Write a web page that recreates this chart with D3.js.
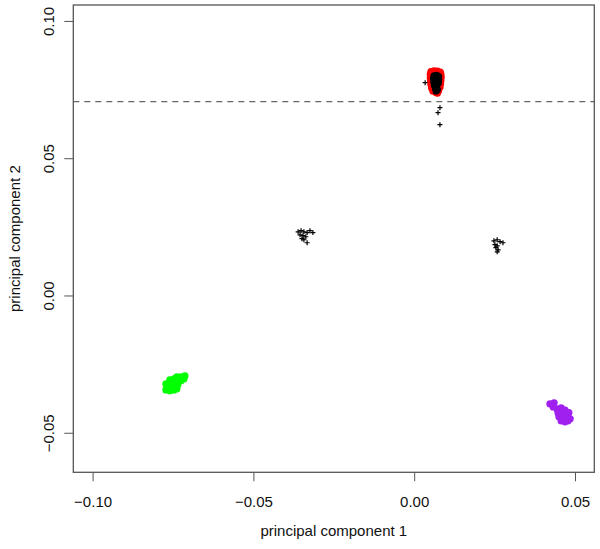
<!doctype html>
<html>
<head>
    <meta charset="utf-8">
    <style>
        body {
            margin: 0;
            background: #fff;
            font-family: "Liberation Sans", "Helvetica", "Arial", sans-serif;
        }
    </style>
    <script src="https://d3js.org/d3.v7.min.js"></script>
</head>
<body>
<div id="my_chart"></div>
<script>
    // cluster points [pc1, pc2]
    var redPoints = [
        [0.0052,0.0815],[0.0062,0.0818],[0.0072,0.0817],[0.0081,0.0814],[0.0050,0.0805],
        [0.0083,0.0806],[0.0050,0.0792],[0.0084,0.0795],[0.0051,0.0780],[0.0083,0.0782],
        [0.0052,0.0768],[0.0082,0.0770],[0.0054,0.0756],[0.0080,0.0758],[0.0058,0.0745],
        [0.0076,0.0746],[0.0066,0.0740],[0.0072,0.0737],[0.0060,0.0810],[0.0075,0.0808]
    ];
    var blackDots = [
        [0.0062,0.0800],[0.0070,0.0802],[0.0076,0.0797],[0.0060,0.0790],[0.0068,0.0790],
        [0.0076,0.0786],[0.0061,0.0778],[0.0069,0.0780],[0.0075,0.0774],[0.0063,0.0766],
        [0.0070,0.0768],[0.0066,0.0756],[0.0072,0.0750],[0.0068,0.0745]
    ];
    var blackCrosses = [
        [0.0034,0.0775],[0.0080,0.0684],[0.0074,0.0666],[0.0080,0.0622],
        [-0.0361,0.0232],[-0.0352,0.0236],[-0.0343,0.0232],[-0.0333,0.0229],[-0.0324,0.0236],
        [-0.0355,0.0221],[-0.0346,0.0218],[-0.0337,0.0214],[-0.0349,0.0207],[-0.0343,0.0203],
        [-0.0333,0.0192],[-0.0315,0.0229],
        [0.0248,0.0199],[0.0258,0.0203],[0.0267,0.0196],[0.0276,0.0192],[0.0251,0.0185],
        [0.0258,0.0181],[0.0254,0.0174],[0.0261,0.0166],[0.0258,0.0159]
    ];
    var greenPoints = [
        [-0.0772,-0.0322],[-0.0760,-0.0307],[-0.0747,-0.0304],[-0.0766,-0.0336],[-0.0753,-0.0329],
        [-0.0741,-0.0322],[-0.0760,-0.0347],[-0.0747,-0.0344],[-0.0735,-0.0325],[-0.0732,-0.0307],
        [-0.0772,-0.0344],[-0.0738,-0.0340],[-0.0738,-0.0296],[-0.0725,-0.0296],[-0.0713,-0.0293],
        [-0.0716,-0.0304],[-0.0725,-0.0311]
    ];
    var purplePoints = [
        [0.0422,-0.0395],[0.0435,-0.0391],[0.0432,-0.0406],[0.0444,-0.0413],[0.0457,-0.0409],
        [0.0469,-0.0417],[0.0447,-0.0427],[0.0460,-0.0427],[0.0472,-0.0431],[0.0481,-0.0427],
        [0.0450,-0.0442],[0.0463,-0.0446],[0.0475,-0.0446],[0.0485,-0.0449],[0.0457,-0.0457],
        [0.0469,-0.0460],[0.0478,-0.0457]
    ];
    var cutoff = 0.0706;
    var xTicks = [-0.10, -0.05, 0.00, 0.05];
    var yTicks = [-0.05, 0.00, 0.05, 0.10];

    var width = 600, height = 549;
    var box = {left: 73.3, right: 594.3, top: 5, bottom: 472.3};

    var svg = d3.select("#my_chart")
        .append("svg")
        .attr("width", width)
        .attr("height", height);

    var x = d3.scaleLinear().domain([-0.106, 0.056]).range([box.left, box.right]);
    var y = d3.scaleLinear().domain([-0.0644, 0.1058]).range([box.bottom, box.top]);
    var fmt = d3.format(".2f");

    // x axis (ticks only, box draws the line)
    var xAxis = svg.append("g")
        .attr("transform", "translate(0," + box.bottom + ")")
        .call(d3.axisBottom(x).tickValues(xTicks).tickSize(9).tickPadding(15).tickFormat(fmt));
    xAxis.select(".domain").remove();
    xAxis.selectAll("line").attr("stroke", "#555");
    xAxis.selectAll("text").attr("font-size", "15px").attr("fill", "#111")
        .attr("font-family", "Liberation Sans, Arial, sans-serif");

    // y axis, labels rotated like base R
    var yAxis = svg.append("g")
        .attr("transform", "translate(" + box.left + ",0)")
        .call(d3.axisLeft(y).tickValues(yTicks).tickSize(9).tickFormat(fmt));
    yAxis.select(".domain").remove();
    yAxis.selectAll("line").attr("stroke", "#555");
    yAxis.selectAll("text")
        .attr("x", null).attr("dy", "0.35em")
        .attr("text-anchor", "middle")
        .attr("transform", "translate(-25,0) rotate(-90)")
        .attr("font-size", "15px").attr("fill", "#111")
        .attr("font-family", "Liberation Sans, Arial, sans-serif");

    // dashed cutoff line
    svg.append("line")
        .attr("x1", box.left).attr("x2", box.right)
        .attr("y1", y(cutoff)).attr("y2", y(cutoff))
        .attr("stroke", "#666")
        .attr("stroke-width", 1.2)
        .attr("stroke-dasharray", "6,5");

    function dots(pts, col, r) {
        svg.append("g")
            .selectAll("circle")
            .data(pts)
            .enter()
            .append("circle")
            .attr("cx", function(d) { return x(d[0]); })
            .attr("cy", function(d) { return y(d[1]); })
            .attr("r", r)
            .attr("fill", col);
    }

    dots(greenPoints, "#00ff00", 3.6);
    dots(purplePoints, "#a020f0", 3.6);
    dots(redPoints, "#ff0000", 3.6);
    dots(blackDots, "#000000", 3.6);

    // "+" markers
    svg.append("g")
        .selectAll("path")
        .data(blackCrosses)
        .enter()
        .append("path")
        .attr("d", function(d) {
            var cx = x(d[0]), cy = y(d[1]), s = 2.5;
            return "M" + (cx - s) + "," + cy + "H" + (cx + s) + "M" + cx + "," + (cy - s) + "V" + (cy + s);
        })
        .attr("stroke", "#000")
        .attr("stroke-width", 1.2);

    // plot frame
    svg.append("rect")
        .attr("x", box.left).attr("y", box.top)
        .attr("width", box.right - box.left)
        .attr("height", box.bottom - box.top)
        .attr("fill", "none")
        .attr("stroke", "#555")
        .attr("stroke-width", 1.3);

    // axis titles
    svg.append("text")
        .attr("x", (box.left + box.right) / 2)
        .attr("y", 531)
        .attr("dy", "0.35em")
        .attr("text-anchor", "middle")
        .attr("font-size", "15px")
        .attr("fill", "#111")
        .text("principal component 1");

    svg.append("text")
        .attr("transform", "translate(15," + ((box.top + box.bottom) / 2) + ") rotate(-90)")
        .attr("dy", "0.35em")
        .attr("text-anchor", "middle")
        .attr("font-size", "15px")
        .attr("fill", "#111")
        .text("principal component 2");
</script>
</body>
</html>
